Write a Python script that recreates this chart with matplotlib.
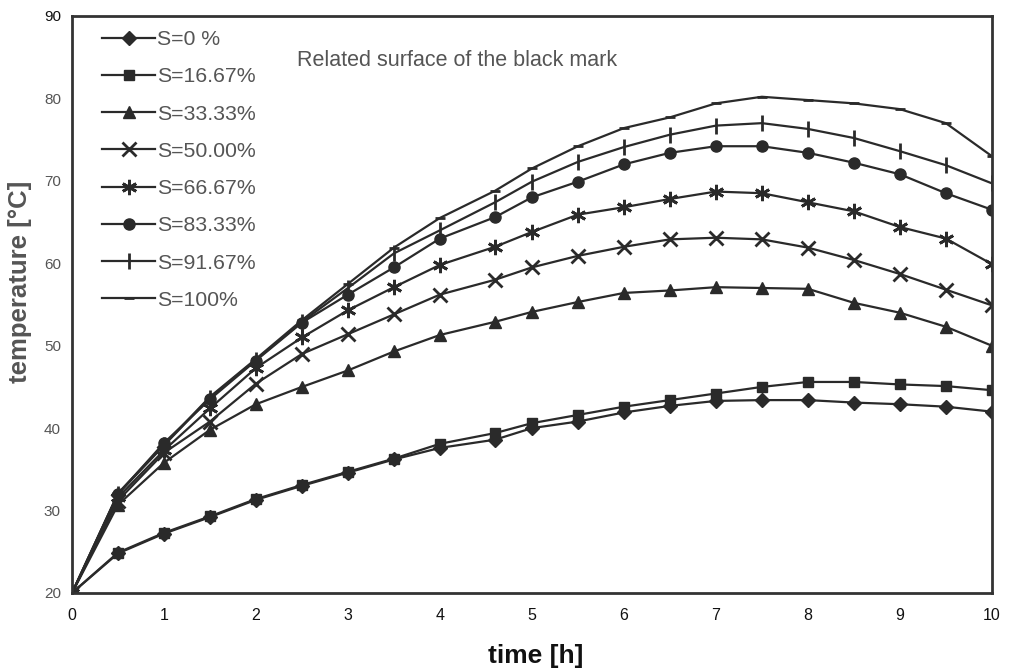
import matplotlib
matplotlib.use("Agg")
import matplotlib.pyplot as plt

time_h = [0, 0.5, 1, 1.5, 2, 2.5, 3, 3.5, 4, 4.6, 5, 5.5, 6, 6.5, 7, 7.5, 8, 8.5, 9, 9.5, 10]

s_0 = [20, 24.8, 27.2, 29.2, 31.3, 33.0, 34.6, 36.2, 37.6, 38.6, 40.0, 40.8, 41.9, 42.7, 43.3, 43.4, 43.4, 43.1, 42.9, 42.6, 42.0]
s_1667 = [20, 24.9, 27.3, 29.3, 31.4, 33.1, 34.7, 36.3, 38.1, 39.4, 40.6, 41.6, 42.6, 43.4, 44.2, 45.0, 45.6, 45.6, 45.3, 45.1, 44.6]
s_3333 = [20, 30.7, 35.8, 39.8, 42.9, 45.0, 47.0, 49.3, 51.3, 52.9, 54.1, 55.3, 56.4, 56.7, 57.1, 57.0, 56.9, 55.2, 54.0, 52.3, 50.0]
s_5000 = [20, 31.2, 37.0, 40.8, 45.4, 49.0, 51.4, 53.8, 56.2, 58.0, 59.5, 60.9, 62.0, 62.9, 63.1, 62.9, 61.9, 60.4, 58.7, 56.8, 54.9]
s_6667 = [20, 31.6, 37.3, 42.4, 47.3, 51.0, 54.3, 57.1, 59.8, 62.0, 63.8, 65.9, 66.8, 67.8, 68.7, 68.5, 67.4, 66.3, 64.4, 63.0, 59.9]
s_8333 = [20, 32.0, 38.2, 43.5, 48.2, 52.8, 56.2, 59.5, 63.0, 65.6, 68.0, 69.9, 72.0, 73.4, 74.2, 74.2, 73.4, 72.2, 70.8, 68.5, 66.5]
s_9167 = [20, 32.0, 37.9, 43.7, 48.3, 52.9, 57.0, 61.2, 64.0, 67.4, 69.9, 72.3, 74.1, 75.6, 76.7, 77.0, 76.3, 75.2, 73.6, 71.9, 69.7]
s_100 = [20, 32.1, 38.0, 43.8, 48.4, 53.1, 57.5, 61.9, 65.5, 68.8, 71.5, 74.2, 76.4, 77.7, 79.4, 80.2, 79.8, 79.4, 78.7, 77.0, 73.0]

labels = ["S=0 %", "S=16.67%", "S=33.33%", "S=50.00%", "S=66.67%", "S=83.33%", "S=91.67%", "S=100%"]
series = [s_0, s_1667, s_3333, s_5000, s_6667, s_8333, s_9167, s_100]
markers = ["D", "s", "^", "x", (6, 2, 0), "o", "|", "_"]
msizes = [7, 7, 8, 10, 11, 8, 12, 7]

x_ticks = list(range(0, 11))
y_ticks = [20, 30, 40, 50, 60, 70, 80, 90]

line_col = "#2a2a2a"
gray_txt = "#555555"
fam = ["Liberation Sans", "DejaVu Sans"]

fig = plt.figure(figsize=(10.10, 6.72), dpi=100)
ax = fig.add_axes([0.0713, 0.1176, 0.9107, 0.8586])

for ys, lab, mk, ms in zip(series, labels, markers, msizes):
    ax.plot(time_h, ys, color=line_col, lw=1.6, marker=mk, markersize=ms,
            markeredgewidth=2.0 if mk in ("x", "|", "_") or isinstance(mk, tuple) else 1.0,
            markerfacecolor=line_col, markeredgecolor=line_col, label=lab)

ax.set_xlim(0, 10)
ax.set_ylim(20, 90)
ax.set_xticks(x_ticks)
ax.set_yticks(y_ticks)
ax.tick_params(axis="y", length=0, pad=8)
ax.tick_params(axis="x", length=0, pad=11)
for lbl in ax.get_xticklabels():
    lbl.set_family(fam)
    lbl.set_fontsize(11.5)
    lbl.set_color("#111111")
for lbl in ax.get_yticklabels():
    lbl.set_family(fam)
    lbl.set_fontsize(11)
    lbl.set_color(gray_txt)
ax.get_yticklabels()[-1].set_color("#111111")

for sp in ax.spines.values():
    sp.set_color("#333333")
    sp.set_linewidth(2)

ax.set_xlabel("time [h]", family=fam, fontsize=19, fontweight="bold", color="#111111")
ax.xaxis.set_label_coords(0.504, -0.089)
ax.set_ylabel("temperature [°C]", family=fam, fontsize=18.5, fontweight="bold", color=gray_txt)
ax.yaxis.set_label_coords(-0.0435, 0.54)

leg = ax.legend(loc="upper left", frameon=False, handlelength=2.5, handletextpad=0.1,
                labelspacing=0.86, borderaxespad=0.0, borderpad=0.0,
                bbox_to_anchor=(30 / 920, 1 - 14 / 577),
                prop={"family": fam, "size": 15.3})
for t in leg.get_texts():
    t.set_color(gray_txt)

ax.text(0.245, 0.923, "Related surface of the black mark", transform=ax.transAxes,
        family=fam, fontsize=15.5, color=gray_txt, va="center", ha="left")

fig.savefig("out.png", dpi=100, facecolor="white")
